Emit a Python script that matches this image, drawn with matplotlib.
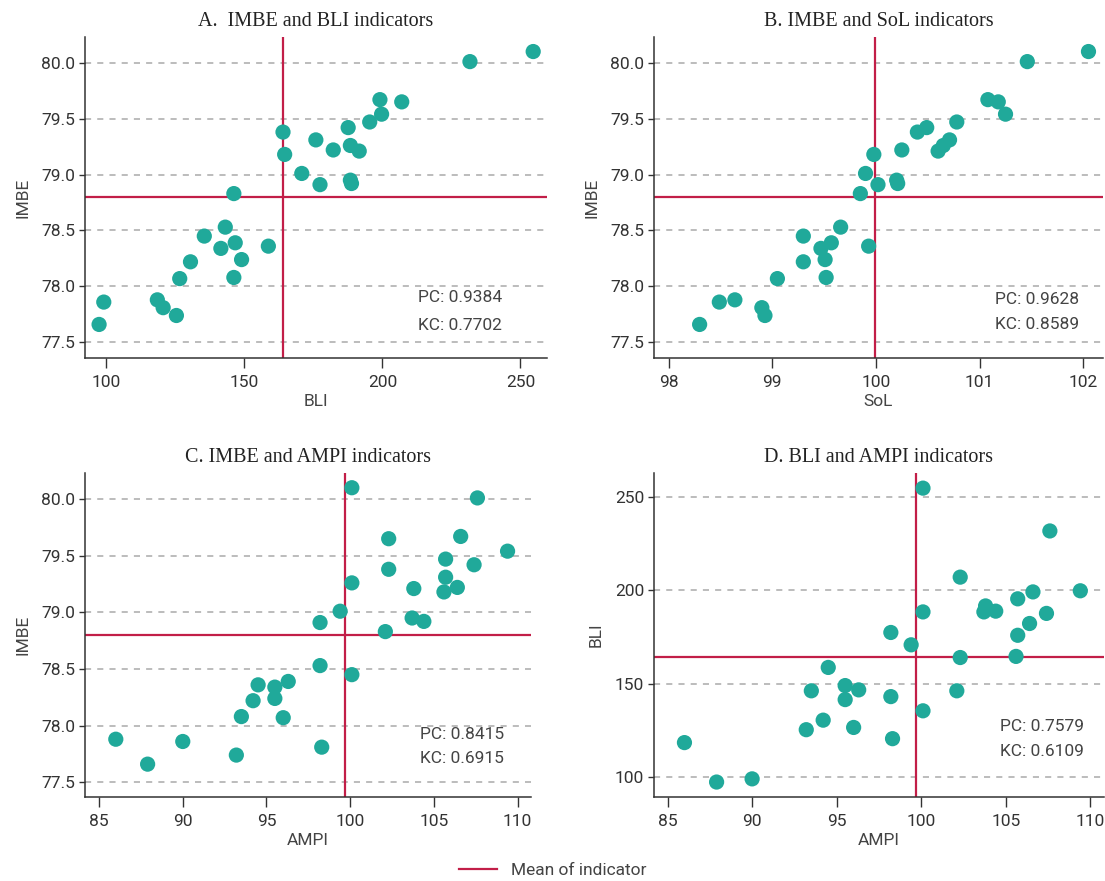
import numpy as np
import matplotlib
matplotlib.use("Agg")
import matplotlib.pyplot as plt
from matplotlib.lines import Line2D

imbe = [80.10, 80.01, 79.67, 79.65, 79.54, 79.47, 79.42, 79.38, 79.31, 79.22,
        79.26, 79.21, 79.18, 79.01, 78.91, 78.95, 78.92, 78.83, 78.53, 78.45,
        78.34, 78.39, 78.36, 78.24, 78.22, 78.07, 78.08, 77.86, 77.66, 77.88,
        77.81, 77.74]
bli = [254.6, 231.7, 199.1, 207.0, 199.7, 195.4, 187.6, 164.0, 175.9, 182.2,
       188.4, 191.6, 164.6, 170.8, 177.4, 188.4, 188.8, 146.2, 143.1, 135.5,
       141.5, 146.7, 158.7, 149.0, 130.5, 126.6, 146.2, 99.1, 97.4, 118.5,
       120.6, 125.4]
sol = [102.05, 101.46, 101.08, 101.18, 101.25, 100.78, 100.49, 100.40, 100.71, 100.25,
       100.65, 100.60, 99.98, 99.90, 100.02, 100.20, 100.21, 99.85, 99.66, 99.30,
       99.47, 99.57, 99.93, 99.51, 99.30, 99.05, 99.52, 98.49, 98.30, 98.64,
       98.90, 98.93]
ampi = [100.1, 107.6, 106.6, 102.3, 109.4, 105.7, 107.4, 102.3, 105.7, 106.4,
        100.1, 103.8, 105.6, 99.4, 98.2, 103.7, 104.4, 102.1, 98.2, 100.1,
        95.5, 96.3, 94.5, 95.5, 94.2, 96.0, 93.5, 90.0, 87.9, 86.0,
        98.3, 93.2]

titles = ["A.  IMBE and BLI indicators", "B. IMBE and SoL indicators",
          "C. IMBE and AMPI indicators", "D. BLI and AMPI indicators"]
pc = ["0.9384", "0.9628", "0.8415", "0.7579"]
kc = ["0.7702", "0.8589", "0.6915", "0.6109"]

teal = "#20A99A"
red = "#C21E48"
plt.rcParams["font.family"] = ["Roboto", "DejaVu Sans"]

fig = plt.figure(figsize=(11.05, 8.81), dpi=100)
W, H = 1105, 881


def make_ax(l, t, r, b):
    return fig.add_axes([l / W, 1 - b / H, (r - l) / W, (b - t) / H])


panels = [
    (make_ax(85, 37, 547, 358), bli, imbe, "BLI", "IMBE", (92.3, 259.6), (77.36, 80.23),
     [100, 150, 200, 250], [77.5, 78.0, 78.5, 79.0, 79.5, 80.0], (0.72, 0.187, 0.10)),
    (make_ax(654, 37, 1103, 358), sol, imbe, "SoL", "IMBE", (97.86, 102.19), (77.36, 80.23),
     [98, 99, 100, 101, 102], [77.5, 78.0, 78.5, 79.0, 79.5, 80.0], (0.76, 0.181, 0.104)),
    (make_ax(85, 473, 531, 797), ampi, imbe, "AMPI", "IMBE", (84.16, 110.8), (77.37, 80.23),
     [85, 90, 95, 100, 105, 110], [77.5, 78.0, 78.5, 79.0, 79.5, 80.0], (0.75, 0.193, 0.119)),
    (make_ax(654, 473, 1104, 797), ampi, bli, "AMPI", "BLI", (84.2, 110.8), (89.4, 262.7),
     [85, 90, 95, 100, 105, 110], [100, 150, 200, 250], (0.77, 0.219, 0.14)),
]

for i, (ax, x, y, xl, yl, xlim, ylim, xt, yt, txt) in enumerate(panels):
    ax.set_xlim(*xlim)
    ax.set_ylim(*ylim)
    ax.set_xticks(xt)
    ax.set_yticks(yt)
    if yl == "IMBE":
        ax.set_yticklabels([f"{v:.1f}" for v in yt])
    for v in yt:
        ax.axhline(v, color="#aaaaaa", lw=1.1, ls=(0, (4, 4)), zorder=0)
    ax.axvline(np.mean(x), color=red, lw=1.6, zorder=1)
    ax.axhline(np.mean(y), color=red, lw=1.6, zorder=1)
    ax.scatter(x, y, s=120, color=teal, edgecolors="none", zorder=3)
    for s in ["top", "right"]:
        ax.spines[s].set_visible(False)
    for s in ["left", "bottom"]:
        ax.spines[s].set_color("#333333")
        ax.spines[s].set_linewidth(1.1)
    ax.tick_params(axis="x", length=7, width=1, colors="#333333", labelsize=12.5, pad=5)
    ax.tick_params(axis="y", length=4, width=1, colors="#333333", labelsize=12.5, pad=3)
    ax.set_xlabel(xl, fontsize=12.5, color="#444444", labelpad=3)
    ax.set_ylabel(yl, fontsize=12.5, color="#444444", labelpad=8)
    ax.set_title(titles[i], family=["Liberation Serif", "DejaVu Serif"], fontsize=14.5,
                 color="#222222", pad=8)
    ax.text(txt[0], txt[1], "PC: " + pc[i], transform=ax.transAxes, fontsize=12.5,
            color="#444444", va="center")
    ax.text(txt[0], txt[2], "KC: " + kc[i], transform=ax.transAxes, fontsize=12.5,
            color="#444444", va="center")

fig.legend(handles=[Line2D([], [], color=red, lw=1.6)], labels=["Mean of indicator"],
           loc="center", bbox_to_anchor=(0.5, 1 - 870 / H), frameon=False,
           fontsize=12.5, handlelength=2.2, labelcolor="#444444")

fig.savefig("out.png", dpi=100)
